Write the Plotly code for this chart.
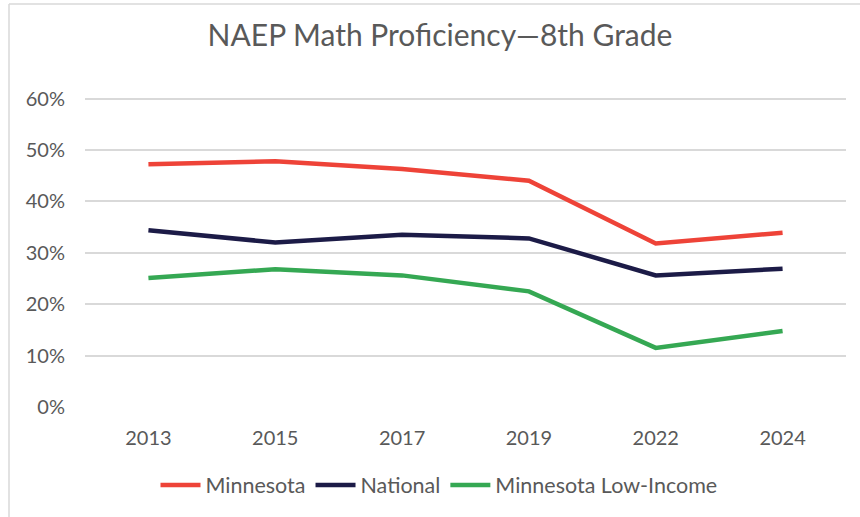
import plotly.graph_objects as go

years = ["2013", "2015", "2017", "2019", "2022", "2024"]
minnesota = [47.2, 47.8, 46.3, 44.0, 31.8, 33.9]
national = [34.4, 32.0, 33.5, 32.8, 25.6, 26.9]
mn_low_income = [25.1, 26.8, 25.6, 22.5, 11.5, 14.8]
y_ticks = [0, 10, 20, 30, 40, 50, 60]
y_tick_labels = ["0%", "10%", "20%", "30%", "40%", "50%", "60%"]

FONT = "Lato"
GREY = "#595959"

fig = go.Figure()
series = [
    ("Minnesota", minnesota, "#EE4338"),
    ("National", national, "#1C1B47"),
    ("Minnesota Low-Income", mn_low_income, "#35A853"),
]
for name, vals, col in series:
    fig.add_trace(go.Scatter(x=years, y=vals, name=name, mode="lines",
                             line=dict(color=col, width=4.5),
                             hoverinfo="skip"))

W, H = 860, 517
ml, mr, mt, mb = 85, 14, 97, 110
pw = W - ml - mr
ph = H - mt - mb

def px_x(x):
    return (x - ml) / pw

def px_y(y):
    return (H - mb - y) / ph

fig.add_shape(type="line", xref="paper", yref="paper",
              x0=px_x(9), x1=px_x(862), y0=px_y(4), y1=px_y(4),
              line=dict(color="#D9D9D9", width=1.5))
fig.add_shape(type="line", xref="paper", yref="paper",
              x0=px_x(9), x1=px_x(9), y0=px_y(4), y1=px_y(520),
              line=dict(color="#D9D9D9", width=1.5))

fig.update_layout(
    width=W, height=H,
    margin=dict(l=ml, r=mr, t=mt, b=mb),
    paper_bgcolor="white", plot_bgcolor="white",
    font=dict(family=FONT, color=GREY, size=20),
    title=dict(text="NAEP Math Proficiency\u20148th Grade", x=440 / W, xanchor="center",
               xref="container", y=1 - 35 / H, yanchor="middle", yref="container",
               font=dict(family=FONT, size=30, color=GREY)),
    xaxis=dict(type="category", range=[-0.5, 5.5], showgrid=False, showline=False,
               ticks="", tickfont=dict(size=20, color=GREY), ticklabelstandoff=17),
    yaxis=dict(range=[0, 60.3], tickvals=y_ticks, ticktext=y_tick_labels,
               showgrid=True, gridcolor="#D9D9D9", gridwidth=1.5,
               zeroline=False, showline=False, ticks="",
               tickfont=dict(size=20, color=GREY), ticklabelstandoff=19),
    legend=dict(orientation="h", x=px_x(439), xanchor="center", y=px_y(485),
                yanchor="middle", font=dict(size=21.5, color=GREY),
                itemwidth=40, tracegroupgap=0),
    showlegend=True,
)

fig.write_html("out.html", config={"displayModeBar": False},
               post_script="document.body.style.margin='0';")
